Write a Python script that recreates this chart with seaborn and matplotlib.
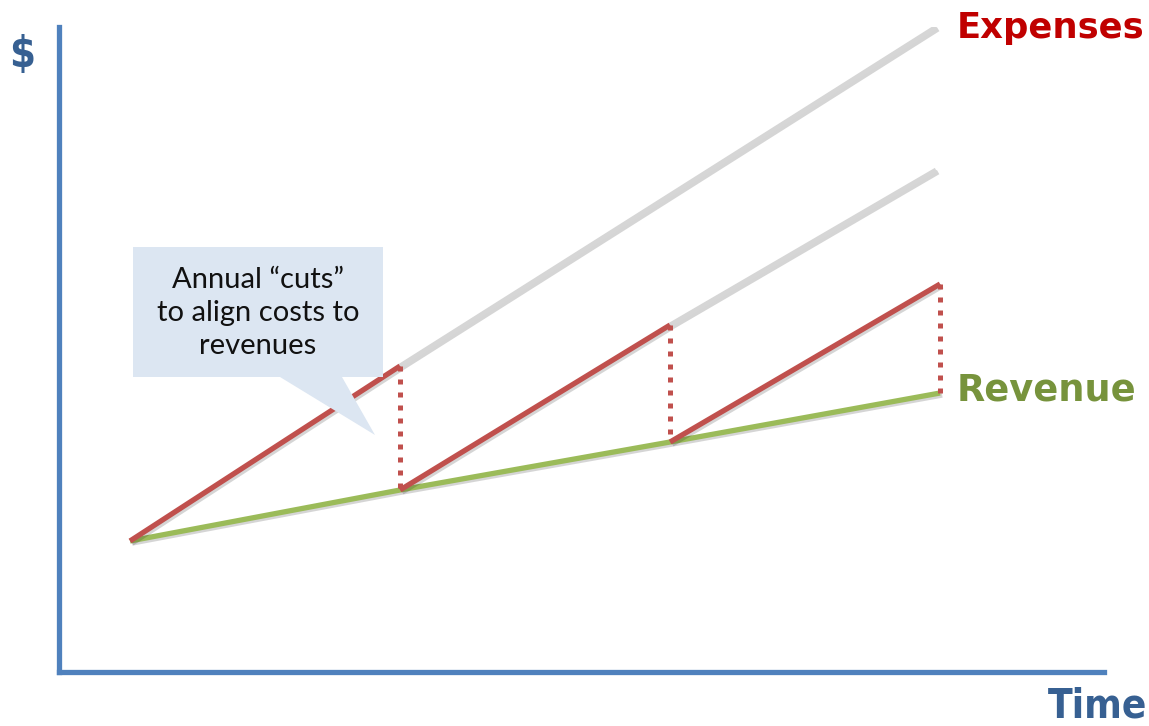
import matplotlib
matplotlib.use("Agg")
import matplotlib.pyplot as plt
import matplotlib.patheffects as pe
from matplotlib.patches import Polygon
import seaborn as sns
import pandas as pd

# ---- data ----------------------------------------------------------------
years = [0, 1, 2, 3]
revenue = [1.31, 1.82, 2.30, 2.79]                 # revenue line
expense_peak = [3.06, 3.47, 3.88]                  # spending reached before each annual cut (years 1..3)
projection_end = [6.45, 5.02]                      # uncut spending projected to year 3 (from years 1 and 2)

labels = {"y": "$", "x": "Time", "exp": "Expenses", "rev": "Revenue",
          "note": "Annual \u201ccuts\u201d\nto align costs to\nrevenues"}

RED = "#C0504D"
GREEN = "#9BBB59"
GREY = "#D6D6D6"
AXIS = "#4F81BD"
TITLE_BLUE = "#376092"

sns.set_theme(style="white")
plt.rcParams["font.family"] = ["DejaVu Sans"]

W, H = 1149, 726
fig = plt.figure(figsize=(W / 100, H / 100), dpi=100)
ax = fig.add_axes([59 / W, (H - 672) / H, (1104 - 59) / W, (672 - 27) / H])
ax.set_xlim(-0.263, 3.607)
ax.set_ylim(0, 6.45)


def px(x, y):
    """pixel position -> figure fraction"""
    return x / W, 1 - y / H


shadow = [pe.SimpleLineShadow(offset=(1.5, -1.5), alpha=0.18, shadow_color="k"), pe.Normal()]

# callout bubble (behind the lines)
box = [px(133, 247), px(383, 247), px(383, 377), px(342, 377), px(375, 435),
       px(280, 377), px(133, 377)]
fig.patches.append(Polygon(box, closed=True, transform=fig.transFigure,
                           facecolor="#DCE6F2", edgecolor="none", zorder=0))
fig.text(*px(258, 313), labels["note"], ha="center", va="center", fontsize=21,
         family=["Lato", "DejaVu Sans"], color="#111111", linespacing=1.35, zorder=1)

# projected (uncut) spending in grey
for start, end in zip([1, 2], projection_end):
    seg = pd.DataFrame({"t": [start, 2.985], "v": [expense_peak[start - 1], end]})
    sns.lineplot(data=seg, x="t", y="v", ax=ax, color=GREY, lw=3.5,
                 solid_capstyle="butt", path_effects=shadow, zorder=2)

# revenue
rev = pd.DataFrame({"t": years, "v": revenue})
sns.lineplot(data=rev, x="t", y="v", ax=ax, color=GREEN, lw=3.8,
             solid_capstyle="butt", path_effects=shadow, zorder=3)

# actual spending: grows each year, then cut back to revenue
for i, peak in enumerate(expense_peak):
    seg = pd.DataFrame({"t": [years[i], years[i + 1]], "v": [revenue[i], peak]})
    sns.lineplot(data=seg, x="t", y="v", ax=ax, color=RED, lw=3.8,
                 solid_capstyle="butt", path_effects=shadow, zorder=4)
    ax.plot([years[i + 1]] * 2, [peak, revenue[i + 1]], color=RED, lw=3.6,
            linestyle=(0, (1, 1.6)), dash_capstyle="butt", zorder=4)

# axes styling
ax.set_xticks([])
ax.set_yticks([])
ax.set_xlabel("")
ax.set_ylabel("")
ax.patch.set_alpha(0)
for side in ["top", "right"]:
    ax.spines[side].set_visible(False)
for side in ["left", "bottom"]:
    sp = ax.spines[side]
    sp.set_color(AXIS)
    sp.set_linewidth(3.8)
    sp.set_capstyle("projecting")
    sp.set_path_effects([pe.SimplePatchShadow(offset=(2, -2), alpha=0.25), pe.Normal()])

fig.text(*px(22, 55), labels["y"], ha="center", va="center", fontsize=30,
         fontweight="bold", color=TITLE_BLUE, fontstretch="condensed")
fig.text(*px(1147, 707), labels["x"], ha="right", va="center", fontsize=29,
         fontweight="bold", color=TITLE_BLUE, fontstretch="condensed")
fig.text(*px(957, 28), labels["exp"], ha="left", va="center", fontsize=25.5,
         fontweight="bold", color="#C00000")
fig.text(*px(957, 390), labels["rev"], ha="left", va="center", fontsize=26.5,
         fontweight="bold", color="#77933C")

fig.savefig("out.png", dpi=100)
